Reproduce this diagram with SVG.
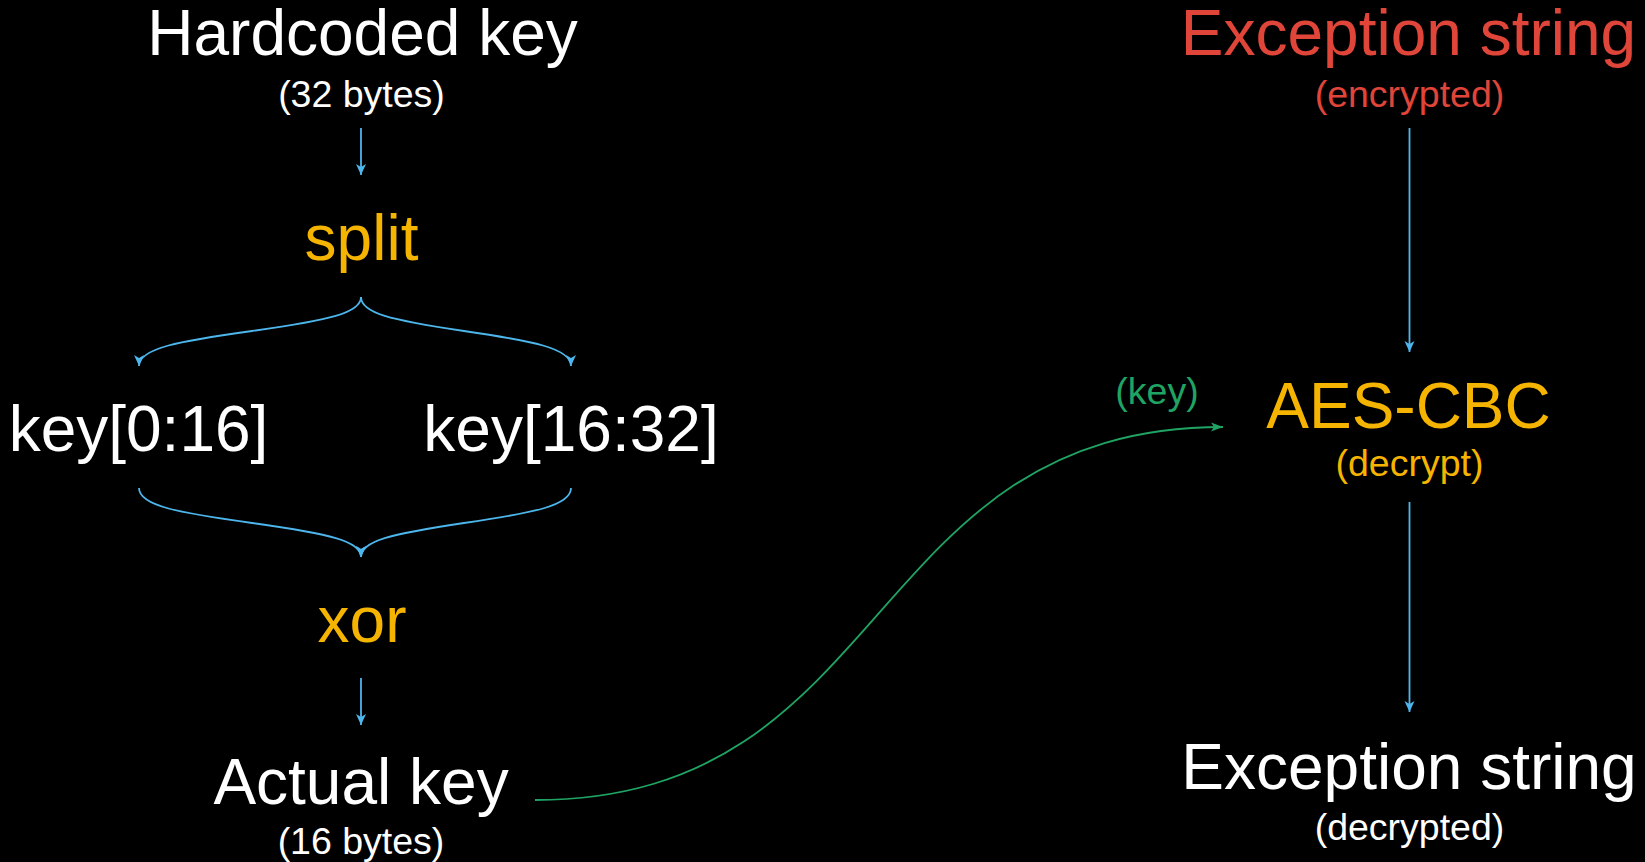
<svg xmlns="http://www.w3.org/2000/svg" width="1645" height="862" viewBox="0 0 1645 862">
<style>
text{font-family:"Liberation Sans",Arial,sans-serif;text-anchor:middle}
.big{font-size:64px}
.sm{font-size:37.5px}
.w{fill:#ffffff}
.o{fill:#F5B400}
.r{fill:#E0453A}
.g{fill:#1FA463}
.blue{fill:none;stroke:#4DB6EC;stroke-width:1.8}
.green{fill:none;stroke:#1FA463;stroke-width:1.8}
</style>
<defs>
<marker id="ab" markerUnits="userSpaceOnUse" markerWidth="12" markerHeight="10" refX="11" refY="5" orient="auto" overflow="visible">
<path d="M0,0 L11,5 L0,10 L3,5 z" fill="#4DB6EC"/>
</marker>
<marker id="ag" markerUnits="userSpaceOnUse" markerWidth="14" markerHeight="10" refX="12" refY="4.5" orient="auto" overflow="visible">
<path d="M0,0 L12,4.5 L0,9 L3,4.5 z" fill="#1FA463"/>
</marker>
</defs>
<rect x="0" y="0" width="1645" height="862" fill="#000000"/>
<g id="connectors">
<path class="blue" d="M361,128 L361,175" marker-end="url(#ab)"/>
<path class="blue" d="M361,297 C361,313 330,320 252,331 C180,341 139,348 139,366" marker-end="url(#ab)"/>
<path class="blue" d="M361,297 C361,313 390,320 464,331 C532,341 571,348 571,366" marker-end="url(#ab)"/>
<path class="blue" d="M139,488 C139,506 180,513 252,523 C330,534 361,541 361,557" marker-end="url(#ab)"/>
<path class="blue" d="M571,488 C571,506 532,513 464,523 C390,534 361,541 361,557" marker-end="url(#ab)"/>
<path class="blue" d="M361,678 L361,725" marker-end="url(#ab)"/>
<path class="blue" d="M1409.5,128 L1409.5,352" marker-end="url(#ab)"/>
<path class="blue" d="M1409.5,502 L1409.5,712" marker-end="url(#ab)"/>
<path class="green" d="M535,800 C895,800 862,427 1223,427" marker-end="url(#ag)"/>
<text class="sm g" x="1157" y="404">(key)</text>
</g>
<g id="hardcoded">
<text class="big w" x="362.5" y="55">Hardcoded key</text>
<text class="sm w" x="361.5" y="107">(32 bytes)</text>
</g>
<g id="split"><text class="big o" x="361.5" y="260">split</text></g>
<g id="key0"><text class="big w" x="138.5" y="451">key[0:16]</text></g>
<g id="key1"><text class="big w" x="571" y="451">key[16:32]</text></g>
<g id="xor"><text class="big o" x="362" y="642">xor</text></g>
<g id="actual">
<text class="big w" x="361" y="804">Actual key</text>
<text class="sm w" x="361" y="854">(16 bytes)</text>
</g>
<g id="enc">
<text class="big r" x="1408.5" y="55">Exception string</text>
<text class="sm r" x="1409.5" y="107">(encrypted)</text>
</g>
<g id="aes">
<text class="big o" x="1408.5" y="428">AES-CBC</text>
<text class="sm o" x="1409.5" y="476">(decrypt)</text>
</g>
<g id="dec">
<text class="big w" x="1409" y="789">Exception string</text>
<text class="sm w" x="1409.5" y="840">(decrypted)</text>
</g>
</svg>
